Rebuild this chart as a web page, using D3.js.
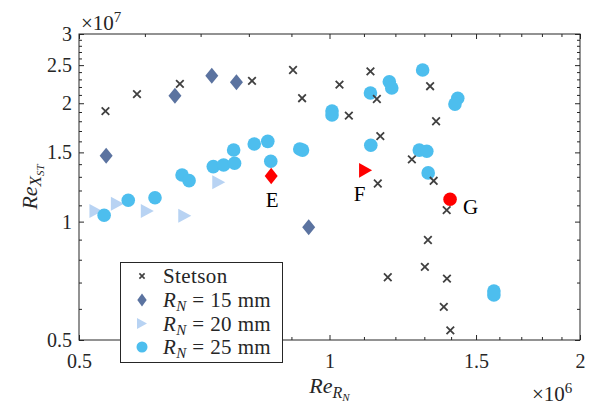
<!DOCTYPE html>
<html><head><meta charset="utf-8">
<script src="https://cdn.jsdelivr.net/npm/d3@7"></script>
<style>
body{margin:0;background:#fff}
svg{display:block}
text{font-family:"Liberation Serif","Times New Roman",serif;fill:#262626}
</style>
</head><body>
<svg id="c" width="589" height="405"></svg>
<script>
// ---------------- data ----------------
const stetsonX = [0.538,0.587,0.661,0.807,0.904,0.927,1.028,1.12,1.14,1.055,1.151,1.256,1.143,1.321,1.343,1.334,1.383,1.313,1.302,1.384,1.372,1.397,1.175];
const stetsonY = [1.91,2.11,2.24,2.28,2.43,2.06,2.23,2.41,2.05,1.86,1.65,1.44,1.25,2.21,1.80,1.27,1.07,0.898,0.767,0.716,0.607,0.529,0.722];

const rn15X = [0.539,0.652,0.722,0.773,0.944];
const rn15Y = [1.47,2.09,2.35,2.26,0.967];

const rn20X = [0.524,0.556,0.604,0.670,0.736];
const rn20Y = [1.064,1.11,1.064,1.035,1.26];

const rn25X = [0.536,0.573,0.617,0.665,0.678,0.725,0.746,0.769,0.767,0.812,0.843,0.850,0.921,0.928,1.007,1.007,1.12,1.18,1.188,1.121,1.294,1.426,1.415,1.282,1.309,1.314,1.576,1.576];
const rn25Y = [1.038,1.133,1.15,1.314,1.271,1.38,1.393,1.407,1.521,1.576,1.60,1.424,1.53,1.52,1.91,1.867,2.124,2.269,2.187,1.564,2.43,2.06,1.99,1.52,1.51,1.33,0.666,0.651];

const caseLabels = ["E","F","G"];
const caseX = [0.851,1.105,1.396];
const caseY = [1.306,1.35,1.14];
const caseShape = ["diamond","triangle","circle"];

const xMajor = [0.5,1,1.5,2];
const xMajorLabels = ["0.5","1","1.5","2"];
const xMinor = [0.6,0.7,0.8,0.9,1.1,1.2,1.3,1.4,1.6,1.7,1.8,1.9];
const yMajor = [0.5,1,1.5,2,2.5,3];
const yMajorLabels = ["0.5","1","1.5","2","2.5","3"];
const yMinor = [0.6,0.7,0.8,0.9,1.1,1.2,1.3,1.4,1.6,1.7,1.8,1.9,2.1,2.2,2.3,2.4,2.6,2.7,2.8,2.9];

const legendNames = ["Stetson","15","20","25"];

// ---------------- layout ----------------
const L=79,R=580,T=34,B=340;
const axisColor="#262626";
const colCross="#404040", col15="#5b73a0", col20="#b8d3f3", col25="#4dbeee", colRed="#ff0000";

const x=d3.scaleLog().domain([0.5,2]).range([L,R]);
const y=d3.scaleLog().domain([0.5,3]).range([B,T]);
const svg=d3.select("#c");

function diamondPath(w,h){return `M0,${-h}L${w},0L0,${h}L${-w},0Z`;}
function triPath(w,h){return `M${-w},${-h}L${w},0L${-w},${h}Z`;}

// markers
const g=svg.append("g");
function zip(a,b){return a.map((v,i)=>[v,b[i]]);}

g.selectAll(".d15").data(zip(rn15X,rn15Y)).join("path")
  .attr("d",diamondPath(6.5,8)).attr("fill",col15)
  .attr("transform",d=>`translate(${x(d[0])},${y(d[1])})`);
g.selectAll(".t20").data(zip(rn20X,rn20Y)).join("path")
  .attr("d",triPath(6.5,7)).attr("fill",col20)
  .attr("transform",d=>`translate(${x(d[0])},${y(d[1])})`);
g.selectAll(".c25").data(zip(rn25X,rn25Y)).join("circle")
  .attr("r",6.8).attr("fill",col25)
  .attr("cx",d=>x(d[0])).attr("cy",d=>y(d[1]));
g.selectAll(".st").data(zip(stetsonX,stetsonY)).join("path")
  .attr("d","M-3.8,-3.8L3.8,3.8M-3.8,3.8L3.8,-3.8")
  .attr("stroke",colCross).attr("stroke-width",1.8).attr("fill","none")
  .attr("transform",d=>`translate(${x(d[0])},${y(d[1])})`);

// red cases
caseLabels.forEach((lab,i)=>{
  const px=x(caseX[i]), py=y(caseY[i]);
  if(caseShape[i]==="diamond") g.append("path").attr("d",diamondPath(6.5,8.3)).attr("fill",colRed).attr("transform",`translate(${px},${py})`);
  else if(caseShape[i]==="triangle") g.append("path").attr("d",triPath(6.5,7.3)).attr("fill",colRed).attr("transform",`translate(${px},${py})`);
  else g.append("circle").attr("r",6.8).attr("cx",px).attr("cy",py).attr("fill",colRed);
});
const labOff=[[1,31,"middle"],[-6,31,"middle"],[13,15,"start"]];
caseLabels.forEach((lab,i)=>{
  svg.append("text").text(lab).attr("x",x(caseX[i])+labOff[i][0]).attr("y",y(caseY[i])+labOff[i][1])
    .attr("text-anchor",labOff[i][2]).attr("font-size",21).style("fill","#000");
});

// axes
function styleAxis(sel){sel.select(".domain").remove();sel.selectAll("line").attr("stroke",axisColor);sel.selectAll("text").attr("font-size",20).attr("font-family",'"Liberation Serif",serif').style("fill",axisColor);}
svg.append("g").attr("transform",`translate(0,${B})`)
  .call(d3.axisBottom(x).tickValues(xMajor).tickSize(-5).tickPadding(14).tickFormat((d,i)=>xMajorLabels[i])).call(styleAxis);
svg.append("g").attr("transform",`translate(0,${B})`)
  .call(d3.axisBottom(x).tickValues(xMinor).tickSize(-3).tickFormat("")).call(styleAxis);
svg.append("g").attr("transform",`translate(0,${T})`)
  .call(d3.axisTop(x).tickValues(xMajor).tickSize(-5).tickFormat("")).call(styleAxis);
svg.append("g").attr("transform",`translate(0,${T})`)
  .call(d3.axisTop(x).tickValues(xMinor).tickSize(-3).tickFormat("")).call(styleAxis);
svg.append("g").attr("transform",`translate(${L},0)`)
  .call(d3.axisLeft(y).tickValues(yMajor).tickSize(-5).tickPadding(7).tickFormat((d,i)=>yMajorLabels[i])).call(styleAxis);
svg.append("g").attr("transform",`translate(${L},0)`)
  .call(d3.axisLeft(y).tickValues(yMinor).tickSize(-3).tickFormat("")).call(styleAxis);
svg.append("g").attr("transform",`translate(${R},0)`)
  .call(d3.axisRight(y).tickValues(yMajor).tickSize(-5).tickFormat("")).call(styleAxis);
svg.append("g").attr("transform",`translate(${R},0)`)
  .call(d3.axisRight(y).tickValues(yMinor).tickSize(-3).tickFormat("")).call(styleAxis);
svg.append("rect").attr("x",L).attr("y",T).attr("width",R-L).attr("height",B-T)
  .attr("fill","none").attr("stroke",axisColor).attr("stroke-width",1);

// exponents
const e7=svg.append("text").attr("x",81).attr("y",30).attr("font-size",21);
e7.append("tspan").text("×10");
e7.append("tspan").text("7").attr("font-size",15).attr("dy",-8);
const e6=svg.append("text").attr("x",532).attr("y",401).attr("font-size",21);
e6.append("tspan").text("×10");
e6.append("tspan").text("6").attr("font-size",15).attr("dy",-8);

// axis labels
const xl=svg.append("text").attr("x",(L+R)/2).attr("y",393).attr("text-anchor","middle").attr("font-size",22);
xl.append("tspan").text("Re").attr("font-style","italic");
xl.append("tspan").text("R").attr("font-style","italic").attr("font-size",16).attr("dy",5);
xl.append("tspan").text("N").attr("font-style","italic").attr("font-size",11).attr("dy",3);

const yl=svg.append("text").attr("transform",`translate(37,${(T+B)/2}) rotate(-90)`).attr("text-anchor","middle").attr("font-size",22);
yl.append("tspan").text("Re").attr("font-style","italic");
yl.append("tspan").text("X").attr("font-style","italic").attr("font-size",17).attr("dy",4);
yl.append("tspan").text("ST").attr("font-style","italic").attr("font-size",11).attr("dy",3);

// legend
const lg=svg.append("g");
lg.append("rect").attr("x",120.5).attr("y",262.5).attr("width",162).attr("height",100)
  .attr("fill","#fff").attr("stroke",axisColor).attr("stroke-width",1);
const rowY=[276,300,323.5,347];
const mx=142, tx=163;
lg.append("path").attr("d","M-2.6,-2.6L2.6,2.6M-2.6,2.6L2.6,-2.6").attr("stroke",colCross).attr("stroke-width",1.6)
  .attr("transform",`translate(${mx},${rowY[0]})`);
lg.append("path").attr("d",diamondPath(4.7,6.5)).attr("fill",col15).attr("transform",`translate(${mx},${rowY[1]})`);
lg.append("path").attr("d",triPath(5,5.5)).attr("fill",col20).attr("transform",`translate(${mx},${rowY[2]})`);
lg.append("circle").attr("r",5.5).attr("cx",mx).attr("cy",rowY[3]).attr("fill",col25);
legendNames.forEach((n,i)=>{
  const t=lg.append("text").attr("x",tx).attr("y",rowY[i]+7).attr("font-size",21).attr("letter-spacing",0.4);
  if(i===0){t.text(n);}
  else{
    t.append("tspan").text("R").attr("font-style","italic");
    t.append("tspan").text("N").attr("font-style","italic").attr("font-size",15).attr("dy",4);
    t.append("tspan").text(" = "+n+" mm").attr("dy",-4).attr("xml:space","preserve");
  }
});
</script>
</body></html>
